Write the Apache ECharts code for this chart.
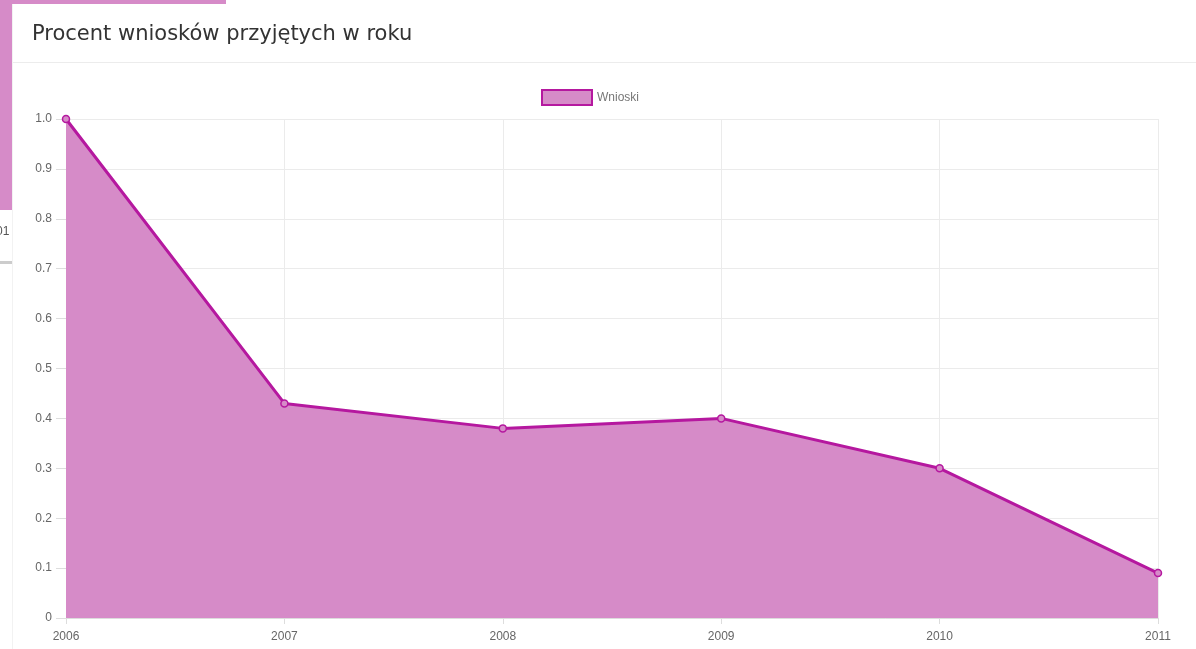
<!DOCTYPE html>
<html>
<head>
<meta charset="utf-8">
<script src="https://cdn.jsdelivr.net/npm/echarts@6/dist/echarts.min.js"></script>
<style>
  html, body { margin: 0; padding: 0; background: #fff; }
  #chart { width: 1196px; height: 649px; }
</style>
</head>
<body>
<div id="chart"></div>
<script>
// Data
const years = ['2006', '2007', '2008', '2009', '2010', '2011'];
const acceptedShare = [1.0, 0.43, 0.38, 0.40, 0.30, 0.09];
const seriesName = 'Wnioski';
const chartTitle = 'Procent wniosków przyjętych w roku';

const lineColor = '#b5189f';
const fillColor = '#d68bc8';
const gridColor = '#ebebeb';
const labelColor = '#666';

const chart = echarts.init(document.getElementById('chart'));

chart.setOption({
    animation: false,
    textStyle: { fontFamily: 'Liberation Sans, Arial, sans-serif' },
    graphic: [
        // bits of the page behind the card
        { type: 'rect', shape: { x: 0, y: 0, width: 226, height: 4 }, style: { fill: '#d68bc8' }, z: -10 },
        { type: 'rect', shape: { x: 0, y: 0, width: 12, height: 210 }, style: { fill: '#d68bc8' }, z: -10 },
        { type: 'text', left: -4, top: 226, style: { text: '01', fill: '#555', font: '12px Liberation Sans' }, z: -10 },
        { type: 'rect', shape: { x: 0, y: 261, width: 12, height: 3 }, style: { fill: '#ccc' }, z: -10 },
        // card header separator
        { type: 'rect', shape: { x: 12, y: 62, width: 1184, height: 1 }, style: { fill: '#ececec' } },
        { type: 'rect', shape: { x: 12, y: 4, width: 1, height: 645 }, style: { fill: '#f2f2f2' } }
    ],
    title: {
        text: chartTitle,
        left: 27,
        top: 19,
        textStyle: { fontSize: 21, fontWeight: 'normal', color: '#333', fontFamily: 'DejaVu Sans, sans-serif' }
    },
    legend: {
        data: [seriesName],
        top: 84,
        left: 536,
        itemWidth: 50,
        itemHeight: 15,
        itemGap: 8,
        icon: 'rect',
        textStyle: { color: '#777', fontSize: 12 },
        itemStyle: { color: fillColor, borderColor: lineColor, borderWidth: 2 },
        lineStyle: { width: 0 }
    },
    grid: { left: 66, right: 38, top: 119, bottom: 31 },
    xAxis: {
        type: 'category',
        data: years,
        boundaryGap: false,
        axisLine: { show: true, lineStyle: { color: '#ddd' } },
        axisTick: { show: true, length: 6, lineStyle: { color: '#ddd' } },
        axisLabel: { color: labelColor, fontSize: 12, margin: 13 },
        splitLine: { show: true, lineStyle: { color: gridColor } }
    },
    yAxis: {
        type: 'value',
        min: 0,
        max: 1,
        interval: 0.1,
        axisLine: { show: true, lineStyle: { color: '#ddd' } },
        axisTick: { show: true, length: 10, lineStyle: { color: '#ddd' } },
        axisLabel: {
            color: labelColor,
            fontSize: 12,
            margin: 14,
            formatter: v => v === 0 ? '0' : v.toFixed(1)
        },
        splitLine: { show: true, lineStyle: { color: gridColor } }
    },
    series: [{
        name: seriesName,
        type: 'line',
        data: acceptedShare,
        symbol: 'circle',
        symbolSize: 7,
        showAllSymbol: true,
        itemStyle: { color: fillColor, borderColor: lineColor, borderWidth: 1.5 },
        lineStyle: { color: lineColor, width: 3 },
        areaStyle: { color: fillColor, opacity: 1 }
    }]
});
</script>
</body>
</html>
